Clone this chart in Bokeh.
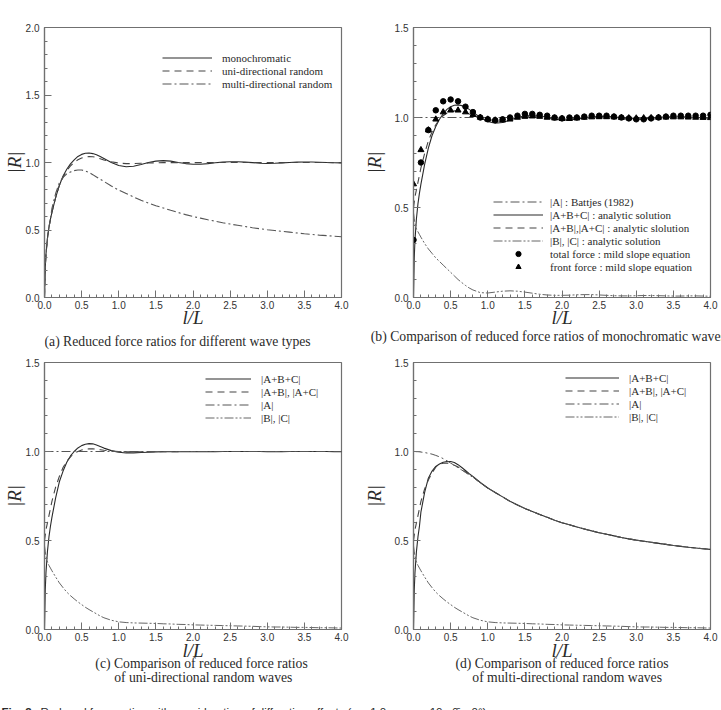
from bokeh.plotting import figure
from bokeh.layouts import column, row
from bokeh.models import (Legend, LegendItem, Label, Range1d, FixedTicker,
                          PrintfTickFormatter, LinearAxis)
from bokeh.embed import file_html
from bokeh.resources import INLINE

# ---------------- data ----------------
# relative length l/L at which the analytic curves are evaluated
l_over_L = [0.0, 0.01, 0.02, 0.04, 0.06, 0.08, 0.1, 0.15, 0.2, 0.25, 0.3, 0.35,
            0.4, 0.45, 0.5, 0.55, 0.6, 0.65, 0.7, 0.75, 0.8,
            0.9, 1.0, 1.1, 1.2, 1.3, 1.4, 1.5, 1.6, 1.7, 1.8, 1.9, 2.0, 2.1,
            2.2, 2.3, 2.4, 2.5, 2.6, 2.7, 2.8, 2.9, 3.0, 3.1, 3.2, 3.3, 3.4,
            3.5, 3.6, 3.7, 3.8, 3.9, 4.0]

# monochromatic waves
mono_abc = [0.0, 0.22, 0.32, 0.44, 0.52, 0.58, 0.63, 0.74, 0.83, 0.90, 0.95, 0.99,
            1.02, 1.045, 1.06, 1.068, 1.07, 1.066, 1.058, 1.045, 1.03,
            1.0, 0.978, 0.968, 0.972, 0.985, 1.0, 1.01, 1.014, 1.01, 1.0, 0.992,
            0.987, 0.987, 0.992, 0.998, 1.003, 1.006, 1.006, 1.003, 0.999, 0.995,
            0.993, 0.994, 0.997, 1.0, 1.003, 1.004, 1.004, 1.002, 1.0, 0.998, 0.997]
mono_ab = [0.5, 0.53, 0.56, 0.6, 0.64, 0.68, 0.72, 0.8, 0.87, 0.92, 0.96, 0.99,
           1.01, 1.025, 1.033, 1.037, 1.037, 1.034, 1.028, 1.02, 1.012,
           0.998, 0.988, 0.984, 0.986, 0.992, 1.0, 1.005, 1.007, 1.005, 1.0, 0.996,
           0.993, 0.993, 0.996, 0.999, 1.002, 1.003, 1.003, 1.002, 0.999, 0.997,
           0.996, 0.997, 0.998, 1.0, 1.001, 1.002, 1.002, 1.001, 1.0, 0.999, 0.998]
mono_b = [0.47, 0.44, 0.41, 0.38, 0.365, 0.35, 0.335, 0.30, 0.27, 0.245, 0.22, 0.2,
          0.18, 0.16, 0.14, 0.12, 0.1, 0.083, 0.067, 0.053, 0.042,
          0.027, 0.025, 0.03, 0.035, 0.037, 0.035, 0.03, 0.024, 0.018, 0.014, 0.012,
          0.012, 0.013, 0.015, 0.016, 0.016, 0.014, 0.012, 0.01, 0.009, 0.009,
          0.01, 0.011, 0.011, 0.01, 0.009, 0.008, 0.008, 0.009, 0.009, 0.008, 0.007]

# uni-directional random waves
uni_abc = [0.0, 0.22, 0.32, 0.44, 0.52, 0.58, 0.63, 0.74, 0.83, 0.89, 0.94, 0.975,
           1.0, 1.02, 1.033, 1.041, 1.044, 1.043, 1.037, 1.028, 1.019,
           1.005, 0.996, 0.992, 0.992, 0.994, 0.996, 0.998, 0.999, 0.999, 0.999, 0.999,
           0.999, 0.999, 0.999, 0.999, 1.0, 1.0, 1.0, 1.0, 1.0, 1.0,
           0.999, 0.999, 0.999, 1.0, 1.0, 1.0, 1.0, 1.0, 1.0, 0.999, 0.999]
uni_ab = [0.5, 0.53, 0.56, 0.6, 0.64, 0.68, 0.72, 0.8, 0.86, 0.91, 0.945, 0.97,
          0.99, 1.0, 1.008, 1.013, 1.015, 1.015, 1.013, 1.01, 1.007,
          1.002, 0.999, 0.998, 0.998, 0.998, 0.999, 0.999, 0.999, 0.999, 0.999, 1.0,
          1.0, 1.0, 1.0, 1.0, 1.0, 1.0, 1.0, 1.0, 1.0, 1.0,
          1.0, 1.0, 1.0, 1.0, 1.0, 1.0, 1.0, 1.0, 1.0, 1.0, 1.0]
uni_b = [0.47, 0.44, 0.41, 0.38, 0.36, 0.345, 0.33, 0.295, 0.262, 0.235, 0.21, 0.19,
         0.172, 0.155, 0.14, 0.125, 0.112, 0.1, 0.088, 0.076, 0.066,
         0.052, 0.043, 0.039, 0.037, 0.036, 0.035, 0.034, 0.032, 0.031, 0.029, 0.028,
         0.026, 0.025, 0.024, 0.023, 0.022, 0.021, 0.02, 0.019, 0.018, 0.016,
         0.015, 0.014, 0.014, 0.013, 0.012, 0.012, 0.011, 0.01, 0.01, 0.009, 0.008]

# multi-directional random waves
multi_abc = [0.0, 0.22, 0.32, 0.44, 0.52, 0.58, 0.66, 0.77, 0.85, 0.89, 0.916, 0.93,
             0.94, 0.944, 0.944, 0.938, 0.926, 0.91, 0.893, 0.876, 0.86,
             0.826, 0.795, 0.77, 0.745, 0.72, 0.70, 0.68, 0.663, 0.646, 0.63, 0.614,
             0.60, 0.588, 0.576, 0.565, 0.554, 0.544, 0.535, 0.526, 0.517, 0.509,
             0.502, 0.496, 0.49, 0.484, 0.478, 0.472, 0.467, 0.462, 0.458, 0.454, 0.45]
multi_ab = [0.5, 0.53, 0.56, 0.6, 0.64, 0.68, 0.72, 0.79, 0.84, 0.88, 0.912, 0.928,
            0.934, 0.935, 0.93, 0.923, 0.913, 0.9, 0.886, 0.872, 0.857,
            0.825, 0.795, 0.77, 0.745, 0.72, 0.70, 0.68, 0.663, 0.646, 0.63, 0.614,
            0.60, 0.588, 0.576, 0.565, 0.554, 0.544, 0.535, 0.526, 0.517, 0.509,
            0.502, 0.496, 0.49, 0.484, 0.478, 0.472, 0.467, 0.462, 0.458, 0.454, 0.45]
multi_a = [1.0, 1.0, 1.0, 0.999, 0.999, 0.998, 0.997, 0.994, 0.99, 0.985, 0.978, 0.97,
           0.96, 0.948, 0.935, 0.922, 0.909, 0.896, 0.882, 0.868, 0.855,
           0.824, 0.795, 0.77, 0.745, 0.72, 0.70, 0.68, 0.663, 0.646, 0.63, 0.614,
           0.60, 0.588, 0.576, 0.565, 0.554, 0.544, 0.535, 0.526, 0.517, 0.509,
           0.502, 0.496, 0.49, 0.484, 0.478, 0.472, 0.467, 0.462, 0.458, 0.454, 0.45]
multi_b = [0.47, 0.44, 0.41, 0.38, 0.36, 0.345, 0.33, 0.295, 0.262, 0.235, 0.21, 0.19,
           0.172, 0.155, 0.14, 0.125, 0.112, 0.1, 0.088, 0.076, 0.066,
           0.052, 0.043, 0.039, 0.037, 0.036, 0.035, 0.034, 0.032, 0.031, 0.029, 0.028,
           0.026, 0.025, 0.024, 0.023, 0.022, 0.021, 0.02, 0.019, 0.018, 0.016,
           0.015, 0.014, 0.014, 0.013, 0.012, 0.012, 0.011, 0.01, 0.01, 0.009, 0.008]

# Battjes (1982) |A| for monochromatic / uni-directional waves
battjes_x = [0.0, 4.0]
battjes_a = [1.0, 1.0]

# mild slope equation results (monochromatic)
msl_x = [round(0.1 * i, 1) for i in range(41)]
msl_total = [0.32, 0.75, 0.93, 1.04, 1.09, 1.10, 1.09, 1.06, 1.03, 1.00, 0.99,
             0.985, 0.99, 1.0, 1.01, 1.02, 1.02, 1.015, 1.01, 1.0, 0.995,
             1.0, 1.0, 1.005, 1.01, 1.01, 1.01, 1.005, 1.0, 0.995, 0.99,
             0.99, 0.995, 1.0, 1.005, 1.01, 1.01, 1.01, 1.01, 1.01, 1.015]
msl_front = [0.63, 0.82, 0.93, 0.99, 1.03, 1.04, 1.04, 1.03, 1.015, 1.0, 0.99,
             0.985, 0.985, 0.99, 1.0, 1.005, 1.007, 1.005, 1.0, 0.996, 0.993,
             0.993, 0.996, 1.0, 1.002, 1.003, 1.003, 1.002, 0.999, 0.997, 0.996,
             0.997, 0.998, 1.0, 1.001, 1.002, 1.002, 1.001, 1.0, 0.999, 0.998]

x_major = [0.0, 0.5, 1.0, 1.5, 2.0, 2.5, 3.0, 3.5, 4.0]
x_minor = [round(0.1 * i, 1) for i in range(41)]
y_major_a = [0.0, 0.5, 1.0, 1.5, 2.0]
y_major = [0.0, 0.5, 1.0, 1.5]
y_minor = [round(0.1 * i, 1) for i in range(21)]

# ---------------- styling ----------------
SERIF = "Liberation Serif"
SANS = "Liberation Sans"
INK = "#2a2a2a"
FRAME = "#707070"
DASH = "7 5"
DASHDOT = "9 3 2 3"
DASHDOTDOT = "9 2 2 2 2 2"
NBSP = "\u00a0"


def panel(width, height, ymax, yticks, left, right, top, bottom,
          ylabel_gap, xlabel_gap):
    p = figure(width=width, height=height, x_range=Range1d(0, 4),
               y_range=Range1d(0, ymax), output_backend="svg",
               toolbar_location=None, min_border_left=left,
               min_border_right=right, min_border_top=top,
               min_border_bottom=bottom)
    p.grid.visible = False
    p.outline_line_color = FRAME
    p.outline_line_width = 1.2
    p.xaxis.ticker = FixedTicker(ticks=x_major, minor_ticks=x_minor)
    p.yaxis.ticker = FixedTicker(ticks=yticks, minor_ticks=y_minor)
    for ax in (p.xaxis[0], p.yaxis[0]):
        ax.formatter = PrintfTickFormatter(format="%.1f")
        ax.axis_line_color = FRAME
        ax.axis_line_width = 1.2
        ax.major_tick_in = 7
        ax.major_tick_out = 0
        ax.minor_tick_in = 3
        ax.minor_tick_out = 0
        ax.major_tick_line_color = FRAME
        ax.minor_tick_line_color = FRAME
        ax.major_label_text_font = SANS
        ax.major_label_text_font_size = "10px"
        ax.major_label_text_color = "#333333"
        ax.axis_label_text_font = SERIF
        ax.axis_label_text_font_style = "italic"
        ax.axis_label_text_font_size = "19px"
        ax.axis_label_text_color = INK
    p.xaxis.major_label_standoff = 3
    p.yaxis.major_label_standoff = 5
    p.xaxis.axis_label = "l/L"
    p.yaxis.axis_label = "|R|"
    p.xaxis.axis_label_standoff = xlabel_gap
    p.yaxis.axis_label_standoff = ylabel_gap
    return p


def caption(p, text, standoff):
    """Sub-figure caption written as the label of a bare axis under the plot."""
    ax = LinearAxis(ticker=FixedTicker(ticks=[]), axis_line_color=None,
                    major_tick_out=0, minor_tick_out=0, major_tick_in=0,
                    minor_tick_in=0, major_label_standoff=0,
                    major_label_text_font_size="0px",
                    axis_label=text, axis_label_standoff=standoff,
                    axis_label_text_font=SERIF,
                    axis_label_text_font_style="normal",
                    axis_label_text_font_size="13.7px",
                    axis_label_text_color=INK)
    p.add_layout(ax, "below")


def strip(width, height, x_range, left=0, right=0):
    """Blank text strip; y runs downward in pixels from its top edge."""
    s = figure(width=width, height=height, x_range=x_range,
               y_range=Range1d(height, 0), x_axis_location=None,
               y_axis_location=None, min_border=0, min_border_left=left,
               min_border_right=right, output_backend="svg",
               toolbar_location=None)
    s.outline_line_color = None
    s.grid.visible = False
    return s


def add_legend(p, items, loc, glyph_w, standoff):
    lg = Legend(items=items, location=loc, padding=0, margin=0, spacing=0,
                glyph_width=glyph_w, glyph_height=13, label_height=13,
                label_standoff=standoff, label_text_font=SERIF,
                label_text_font_size="11px", label_text_color=INK,
                background_fill_alpha=0, border_line_alpha=0)
    p.add_layout(lg)


def curve(p, y, dash, color=INK, width=1.1):
    return p.line(l_over_L, y, line_color=color, line_width=width,
                  line_dash=dash)


# ---------------- (a) wave types ----------------
pa = panel(360, 334, 2.0, y_major_a, 43, 19, 27, 37, -2, -5)
ra1 = curve(pa, mono_abc, "solid")
ra2 = curve(pa, uni_abc, DASH, "#444444")
ra3 = curve(pa, multi_abc, DASHDOT, "#555555")
add_legend(pa, [LegendItem(label="monochromatic", renderers=[ra1]),
                LegendItem(label="uni-directional random", renderers=[ra2]),
                LegendItem(label="multi-directional random", renderers=[ra3])],
           (118, 207), 50, 10)
# caption strip shares the plot's horizontal frame (43..341 px)
cap_a = strip(360, 16, Range1d(0, 4), left=43, right=19)
cap_a.add_layout(Label(x=0.0, y=7, text="(a) Reduced force ratios for different wave types",
                       text_baseline="middle", text_font=SERIF,
                       text_font_size="13.7px", text_color=INK))

# ---------------- (b) monochromatic ----------------
pb = panel(361, 350, 1.5, y_major, 52, 11, 27, 53, 7, -5)
rb1 = pb.line(battjes_x, battjes_a, line_color="#555555", line_width=1.0,
              line_dash=DASHDOT)
rb2 = curve(pb, mono_abc, "solid")
rb3 = curve(pb, mono_ab, DASH, "#444444")
rb4 = curve(pb, mono_b, DASHDOTDOT, "#555555", 0.9)
rb6 = pb.scatter(msl_x, msl_front, marker="triangle", size=6,
                 fill_color="black", line_color="black")
rb5 = pb.scatter(msl_x, msl_total, marker="circle", size=5.5,
                 fill_color="black", line_color="black")
add_legend(pb, [LegendItem(label="|A| : Battjes (1982)", renderers=[rb1]),
                LegendItem(label="|A+B+C| : analytic solution", renderers=[rb2]),
                LegendItem(label="|A+B|,|A+C| : analytic slolution", renderers=[rb3]),
                LegendItem(label="|B|, |C| : analytic solution", renderers=[rb4]),
                LegendItem(label="total force : mild slope equation", renderers=[rb5]),
                LegendItem(label="front force : mild slope equation", renderers=[rb6])],
           (80, 24), 50, 7)
caption(pb, "(b) Comparison of reduced force ratios of monochromatic waves"
        + NBSP * 8, -2)

# ---------------- (c) uni-directional ----------------
pc = panel(360, 352, 1.5, y_major, 43, 19, 11, 73, -2, -4)
rc1 = curve(pc, uni_abc, "solid")
rc2 = curve(pc, uni_ab, DASH, "#444444")
rc3 = pc.line(battjes_x, battjes_a, line_color="#555555", line_width=1.0,
              line_dash=DASHDOT)
rc4 = curve(pc, uni_b, DASHDOTDOT, "#555555", 0.9)
add_legend(pc, [LegendItem(label="|A+B+C|", renderers=[rc1]),
                LegendItem(label="|A+B|, |A+C|", renderers=[rc2]),
                LegendItem(label="|A|", renderers=[rc3]),
                LegendItem(label="|B|, |C|", renderers=[rc4])],
           (161, 205), 46, 10)
caption(pc, NBSP * 5 + "(c) Comparison of reduced force ratios", -8)
caption(pc, NBSP * 6 + "of uni-directional random waves", -4)

# ---------------- (d) multi-directional ----------------
pd = panel(361, 352, 1.5, y_major, 52, 11, 12, 73, 7, -4)
rd1 = curve(pd, multi_abc, "solid")
rd2 = curve(pd, multi_ab, DASH, "#444444")
rd3 = curve(pd, multi_a, DASHDOT, "#555555", 1.0)
rd4 = curve(pd, multi_b, DASHDOTDOT, "#555555", 0.9)
add_legend(pd, [LegendItem(label="|A+B+C|", renderers=[rd1]),
                LegendItem(label="|A+B|, |A+C|", renderers=[rd2]),
                LegendItem(label="|A|", renderers=[rd3]),
                LegendItem(label="|B|, |C|", renderers=[rd4])],
           (152, 206), 54, 10)
caption(pd, "(d) Comparison of reduced force ratios", -8)
caption(pd, NBSP * 3 + "of multi-directional random waves", -4)

# ---------------- figure caption strip ----------------
pcap = strip(721, 8, Range1d(0, 721))
pcap.add_layout(Label(x=1, y=-1, text="Fig. 2.", text_baseline="top",
                      text_font=SANS, text_font_style="bold",
                      text_font_size="11.5px", text_color=INK))
pcap.add_layout(Label(x=40, y=-1,
                      text="Reduced force ratios with consideration of diffraction "
                           "effects (\u03b3 = 1.0 , s\u2098\u2090\u2093 = 10 , "
                           "\u03b8\u0304 = 0\u00b0)",
                      text_baseline="top", text_font=SANS,
                      text_font_size="11.5px", text_color=INK))

layout = column(row(column(pa, cap_a), pb), row(pc, pd), pcap)
open("out.html", "w").write(file_html(layout, INLINE))
